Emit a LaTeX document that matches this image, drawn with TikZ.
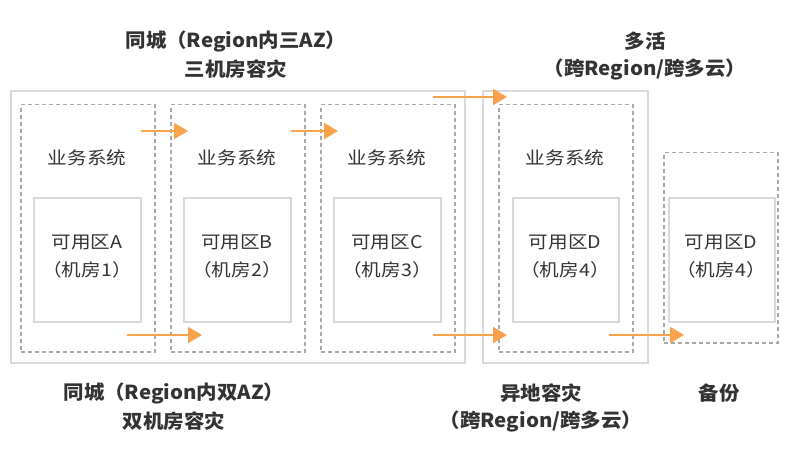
\documentclass[tikz,border=0pt]{standalone}
\usepackage{fontspec}
\usetikzlibrary{arrows.meta}
\newfontfamily\cjk[FakeStretch=1.12]{Noto Sans CJK SC}
\newfontfamily\cjklab[FakeStretch=1.06]{Noto Sans CJK SC}
\definecolor{txt}{HTML}{333333}
\definecolor{boxgray}{HTML}{D9D9D9}
\definecolor{dashgray}{HTML}{A8A8A8}
\definecolor{arrorange}{HTML}{F9A24B}
\begin{document}
\begin{tikzpicture}[x=1pt,y=-1pt,
  solidbox/.style={draw=boxgray,line width=2pt,inner sep=0pt,anchor=north west,fill=none},
  dashbox/.style={draw=dashgray,line width=1.5pt,dash pattern=on 4pt off 3pt,inner sep=0pt,anchor=north west},
  inner/.style={font=\cjk\fontsize{17.5}{21}\selectfont,text=txt,inner sep=0pt},
  lab/.style={font=\cjklab\bfseries\fontsize{19.3}{23}\selectfont,text=txt,inner sep=0pt},
  arr/.style={draw=arrorange,line width=2pt,-{Triangle[length=14pt,width=16pt]}}]
\useasboundingbox[fill=white] (0,0) rectangle (786,454);
% outer solid boxes
\node[solidbox,minimum width=454pt,minimum height=272pt] (big1) at (10,90) {};
\node[solidbox,minimum width=165pt,minimum height=272pt] (big2) at (482,90) {};
% dashed system boxes
\node[dashbox,minimum width=134pt,minimum height=247pt] (dA) at (20,104) {};
\node[dashbox,minimum width=134pt,minimum height=247pt] (dB) at (170,104) {};
\node[dashbox,minimum width=134pt,minimum height=247pt] (dC) at (320,104) {};
\node[dashbox,minimum width=134pt,minimum height=247pt] (dD) at (498,104) {};
\node[dashbox,minimum width=114pt,minimum height=190pt] (dE) at (663,152) {};
% zone boxes
\node[solidbox,minimum width=107pt,minimum height=124pt] (zA) at (33,197) {};
\node[solidbox,minimum width=107pt,minimum height=124pt] (zB) at (183,197) {};
\node[solidbox,minimum width=107pt,minimum height=124pt] (zC) at (333,197) {};
\node[solidbox,minimum width=106pt,minimum height=124pt] (zD) at (512,197) {};
\node[solidbox,minimum width=106pt,minimum height=124pt] (zE) at (668,197) {};
% system labels
\node[inner] (sA) at (87,158) {业务系统};
\node[inner] (sB) at (237,158) {业务系统};
\node[inner] (sC) at (387,158) {业务系统};
\node[inner] (sD) at (565,158) {业务系统};
% zone labels
\node[inner] (zA1) at (87,242) {可用区A};
\node[inner] (zA2) at (87,270) {（机房1）};
\node[inner] (zB1) at (237,242) {可用区B};
\node[inner] (zB2) at (237,270) {（机房2）};
\node[inner] (zC1) at (387,242) {可用区C};
\node[inner] (zC2) at (387,270) {（机房3）};
\node[inner] (zD1) at (565,242) {可用区D};
\node[inner] (zD2) at (565,270) {（机房4）};
\node[inner] (zE1) at (721,242) {可用区D};
\node[inner] (zE2) at (721,270) {（机房4）};
% top labels
\node[lab] (t1) at (236,41) {同城（Region内三AZ）};
\node[lab] (t2) at (236,69) {三机房容灾};
\node[lab] (t3) at (645,41) {多活};
\node[lab] (t4) at (645,69) {（跨Region/跨多云）};
% bottom labels
\node[lab] (b1) at (174,393) {同城（Region内双AZ）};
\node[lab] (b2) at (174,421) {双机房容灾};
\node[lab] (b3) at (541,393) {异地容灾};
\node[lab] (b4) at (541,421) {（跨Region/跨多云）};
\node[lab] (b5) at (719,393) {备份};
% arrows
\coordinate (a1s) at (141,131); \coordinate (a1e) at (188,131);
\coordinate (a2s) at (291,131); \coordinate (a2e) at (338,131);
\coordinate (a3s) at (127,335); \coordinate (a3e) at (202,335);
\coordinate (a4s) at (433,97);  \coordinate (a4e) at (507,97);
\coordinate (a5s) at (433,335); \coordinate (a5e) at (507,335);
\coordinate (a6s) at (609,335); \coordinate (a6e) at (684,335);
\draw[arr] (a1s) -- (a1e);
\draw[arr] (a2s) -- (a2e);
\draw[arr] (a3s) -- (a3e);
\draw[arr] (a4s) -- (a4e);
\draw[arr] (a5s) -- (a5e);
\draw[arr] (a6s) -- (a6e);
\end{tikzpicture}
\end{document}
